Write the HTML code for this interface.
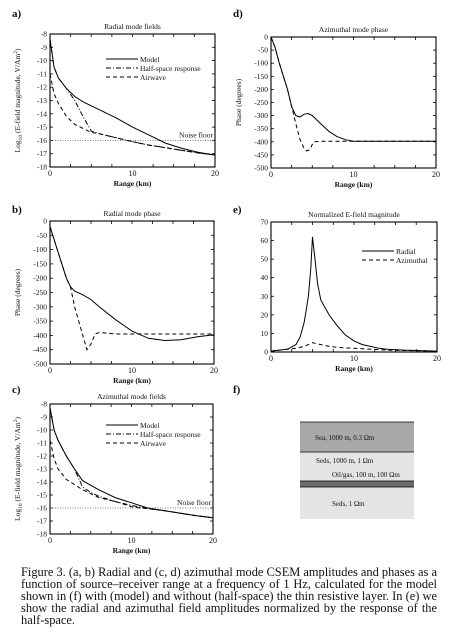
<!DOCTYPE html>
<html><head><meta charset="utf-8"><style>
body{margin:0;background:#fff;width:449px;height:642px;overflow:hidden;font-family:"Liberation Serif",serif}
svg{position:absolute;left:0;top:0}
#cap{position:absolute;left:21px;top:566px;width:416px;font-size:12.4px;line-height:12.1px;text-align:justify;color:#111}
</style></head><body>
<svg id="fig" width="449" height="642"></svg>
<div id="cap">Figure 3. (a, b) Radial and (c, d) azimuthal mode CSEM amplitudes and phases as a function of source–receiver range at a frequency of 1 Hz, calculated for the model shown in (f) with (model) and without (half-space) the thin resistive layer. In (e) we show the radial and azimuthal field amplitudes normalized by the response of the half-space.</div>
<script>
// Panel a: radial mode fields
const aModelX=[0,0.5,1,2,3,4,6,8,10,12,14,16,18,20];
const aModelY=[-8.4,-10.5,-11.3,-12.1,-12.7,-13.1,-13.7,-14.3,-15,-15.6,-16.2,-16.6,-16.9,-17.1];
const aHalfX=[0,0.5,1,2,3,4,5,6,8,10,12,14,16,18,20];
const aHalfY=[-8.4,-10.5,-11.3,-12.1,-13,-14.2,-15.3,-15.5,-15.8,-16.1,-16.35,-16.55,-16.75,-16.95,-17.1];
const aAirX=[0,0.5,1,2,3,4,5,6,8,10,12,14,16,18,20];
const aAirY=[-11,-12.5,-13.2,-14.2,-14.8,-15.1,-15.4,-15.5,-15.8,-16.1,-16.35,-16.55,-16.75,-16.95,-17.1];
// Panel b: radial mode phase
const bModelX=[0,1,2,2.5,3,4,5,6,8,10,12,14,16,18,20];
const bModelY=[-20,-110,-200,-230,-245,-258,-275,-300,-345,-385,-410,-418,-415,-405,-398];
const bHalfX=[0,1,2,2.5,3,4,4.5,5,5.5,6,8,20];
const bHalfY=[-20,-110,-200,-230,-300,-400,-450,-430,-395,-390,-395,-395];
// Panel c: azimuthal mode fields
const cModelX=[0,0.5,1,2,3,4,6,8,10,12,14,16,18,20];
const cModelY=[-8.3,-10,-10.8,-12,-13,-13.9,-14.6,-15.2,-15.6,-16,-16.2,-16.4,-16.6,-16.75];
const cHalfX=[0,0.5,1,2,3,4,5,6,8,10,12,14,16,18,20];
const cHalfY=[-8.3,-10,-10.8,-12,-13,-14.4,-14.8,-15.1,-15.5,-15.8,-16.05,-16.2,-16.4,-16.6,-16.75];
const cAirX=[0,0.5,1,2,3,4,6,8,10,11,12,14,16,18,20];
const cAirY=[-10.8,-12.2,-13,-13.8,-14.2,-14.6,-15.2,-15.5,-15.9,-16,-16.05,-16.2,-16.4,-16.6,-16.75];
// Panel d: azimuthal mode phase
const dModelX=[0,0.5,1,2,2.5,3,3.5,4,4.5,5,6,7,8,9,10,20];
const dModelY=[0,-40,-100,-200,-265,-300,-305,-295,-292,-300,-330,-360,-380,-392,-398,-398];
const dHalfX=[0,0.5,1,2,2.5,3,3.5,4,4.3,4.7,5,5.2,6,20];
const dHalfY=[0,-40,-100,-200,-265,-330,-390,-425,-435,-430,-410,-400,-398,-398];
// Panel e: normalized magnitude
const eRadX=[0,1,2,3,3.5,4,4.5,4.8,5,5.3,5.6,6,7,8,9,10,11,12,13,14,16,20];
const eRadY=[0.5,1,1.5,4,8,16,30,45,62,50,37,28,20,14,9,6,4,3,2,1.5,1,0.5];
const eAzX=[0,2,3,4,5,6,7,8,10,12,14,16,20];
const eAzY=[0.5,1.5,2,3,5,4,3,2.5,2,1.5,1,0.8,0.5];
const logTicks=[-8,-9,-10,-11,-12,-13,-14,-15,-16,-17,-18];
const phaseTicks=[0,-50,-100,-150,-200,-250,-300,-350,-400,-450,-500];
const eTicks=[0,10,20,30,40,50,60,70];
const xTicks=[0,10,20];

const NS='http://www.w3.org/2000/svg';
const svg=document.getElementById('fig');
function mk(tag,attrs,parent){const e=document.createElementNS(NS,tag);for(const k in attrs)e.setAttribute(k,attrs[k]);(parent||svg).appendChild(e);return e;}
function txt(x,y,s,size,anchor,parent,extra){const t=mk('text',Object.assign({x:x,y:y,'font-size':size,'text-anchor':anchor||'start','font-family':'Liberation Serif, serif',fill:'#111'},extra||{}),parent);t.textContent=s;return t;}

function panel(id,x0,x1,ytop,ybot,ymax,ymin,ticks,title,ylabel){
  const g=mk('g',{});
  
  
  const sx=v=>x0+(v/20)*(x1-x0);
  const sy=v=>ytop+(ymax-v)/(ymax-ymin)*(ybot-ytop);
  const fr=mk('rect',{x:x0,y:ytop,width:x1-x0,height:ybot-ytop,fill:'none',stroke:'#000','stroke-width':1.1},g);
  
  
  ticks.forEach(v=>{const y=sy(v);
    mk('line',{x1:x0,y1:y,x2:x0+3,y2:y,stroke:'#000','stroke-width':0.8},g);
    mk('line',{x1:x1,y1:y,x2:x1-3,y2:y,stroke:'#000','stroke-width':0.8},g);
    const t=txt(x0-3,y+2.5,String(v),7.5,'end',g);
    
    
  });
  for(let v=0;v<=20;v+=2.5){const x=sx(v);
    mk('line',{x1:x,y1:ybot,x2:x,y2:ybot-(v%10===0?0:3),stroke:'#000','stroke-width':0.8},g);
    mk('line',{x1:x,y1:ytop,x2:x,y2:ytop+3,stroke:'#000','stroke-width':0.8},g);}
  xTicks.forEach(v=>{const t=txt(sx(v),ybot+9,String(v),8,'middle',g);
    
    });
  const xt=txt((x0+x1)/2,ybot+19,'Range (km)',7.5,'middle',g,{'font-weight':'bold'});
  
  
  const tt=txt((x0+x1)/2,ytop-5,title,7.5,'middle',g);
  
  
  const yl=mk('text',{x:0,y:0,'font-size':7.5,'text-anchor':'middle','font-family':'Liberation Serif, serif',transform:`translate(${x0-30},${(ytop+ybot)/2}) rotate(-90)`,fill:'#111'},g);
  yl.innerHTML=ylabel;
  
  
  return {g,sx,sy};
}
function series(p,xs,ys,dash,name){
  const d=xs.map((v,i)=>(i?'L':'M')+p.sx(v).toFixed(1)+','+p.sy(ys[i]).toFixed(1)).join(' ');
  const e=mk('path',{d:d,fill:'none',stroke:'#000','stroke-width':1,'stroke-dasharray':dash||'none'},p.g);
  
  
}
function legend(p,x,y,items){
  items.forEach((it,i)=>{
    const l=mk('line',{x1:x,y1:y+i*9,x2:x+32,y2:y+i*9,stroke:'#000','stroke-width':1,'stroke-dasharray':it[1]||'none'},p.g);
    
    
    const t=txt(x+34,y+i*9+3,it[0],7.5,'start',p.g);
    
    
  });
}
function noise(p,x1){
  const l=mk('line',{x1:p.sx(0),y1:p.sy(-16),x2:p.sx(20),y2:p.sy(-16),stroke:'#555','stroke-width':0.7,'stroke-dasharray':'1 1.5'},p.g);
  
  
  const t=txt(p.sx(20)-2,p.sy(-16)-3,'Noise floor',7.5,'end',p.g);
  
  
}
function letter(x,y,s){const t=txt(x,y,s,11,'start',null,{'font-weight':'bold'});
  
  }

const logLab='Log<tspan font-size="5.5" dy="2">10</tspan><tspan dy="-2"> (E-field magnitude, V/Am</tspan><tspan font-size="5.5" dy="-3">2</tspan><tspan dy="3">)</tspan>';
// a
letter(12,17,'a)');
const pa=panel('panel-a-radial-fields',50,215,34,167,-8,-18,logTicks,'Radial mode fields',logLab);
noise(pa);
series(pa,aModelX,aModelY,null,'model-line');
series(pa,aHalfX,aHalfY,'5 2 1 2','half-space-line');
series(pa,aAirX,aAirY,'4 3','airwave-line');
legend(pa,106,59,[['Model'],['Half-space response','5 2 1 2'],['Airwave','4 3']]);
// b
letter(12,213,'b)');
const pb=panel('panel-b-radial-phase',50,214,221,364,0,-500,phaseTicks,'Radial mode phase','Phase (degrees)');
series(pb,bModelX,bModelY,null,'model-line');
series(pb,bHalfX,bHalfY,'4 3','half-space-line');
// c
letter(12,393,'c)');
const pc=panel('panel-c-azimuthal-fields',50,213,404,534,-8,-18,logTicks,'Azimuthal mode fields',logLab);
noise(pc);
series(pc,cModelX,cModelY,null,'model-line');
series(pc,cHalfX,cHalfY,'5 2 1 2','half-space-line');
series(pc,cAirX,cAirY,'4 3','airwave-line');
legend(pc,106,425,[['Model'],['Half-space response','5 2 1 2'],['Airwave','4 3']]);
// d
letter(233,17,'d)');
const pd=panel('panel-d-azimuthal-phase',271,436,37,168,0,-500,phaseTicks,'Azimuthal mode phase','Phase (degrees)');
series(pd,dModelX,dModelY,null,'model-line');
series(pd,dHalfX,dHalfY,'4 3','half-space-line');
// e
letter(233,213,'e)');
const pe=panel('panel-e-normalized',271,437,222,352,70,0,eTicks,'Normalized E-field magnitude','');
series(pe,eRadX,eRadY,null,'radial-line');
series(pe,eAzX,eAzY,'4 3','azimuthal-line');
legend(pe,362,251,[['Radial'],['Azimuthal','4 3']]);
// f
letter(233,393,'f)');
const gf=mk('g',{});


const layers=[[422,452,'#a9a9a9','sea-layer'],[452,481,'#e4e4e4','seds-layer'],[481,487,'#6b6b6b','oil-gas-layer'],[487,519,'#e4e4e4','lower-seds-layer']];
layers.forEach(L=>{const r=mk('rect',{x:300,y:L[0],width:114,height:L[1]-L[0],fill:L[2]},gf);
  
  });
[422,452,481,487].forEach(y=>mk('line',{x1:300,y1:y,x2:414,y2:y,stroke:'#000','stroke-width':0.8},gf));
[[315,440,'Sea, 1000 m, 0.3 Ωm'],[316,463,'Seds, 1000 m, 1 Ωm'],[332,477,'Oil/gas, 100 m, 100 Ωm'],[332,506,'Seds, 1 Ωm']].forEach(s=>{
  const t=txt(s[0],s[1],s[2],7,'start',gf);
  
  });
</script>
</body></html>
